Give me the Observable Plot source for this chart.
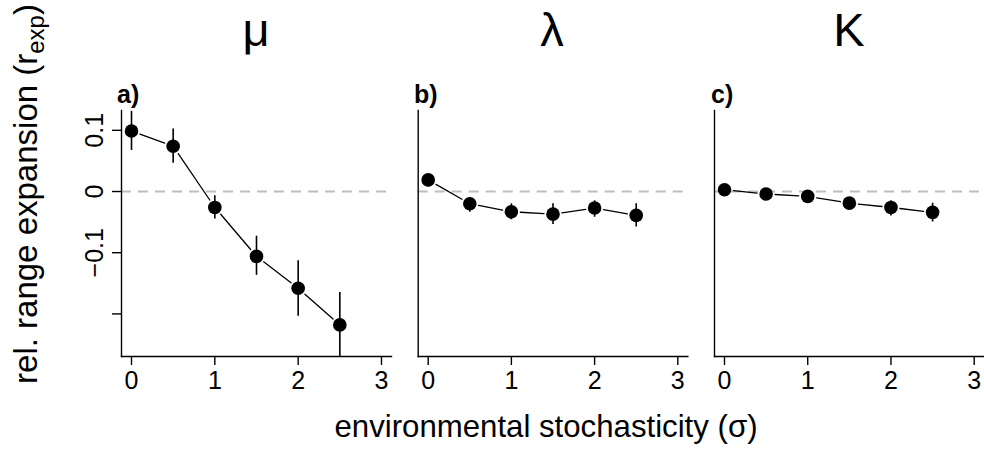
<!DOCTYPE html>
<html><head><meta charset="utf-8">
<script src="https://cdn.jsdelivr.net/npm/d3@7"></script>
<script src="https://cdn.jsdelivr.net/npm/@observablehq/plot@0.6"></script>
<style>
body{margin:0;background:#fff;}
#wrap{position:relative;width:984px;height:450px;overflow:hidden;font-family:"Liberation Sans",Arial,Helvetica,sans-serif;}
.panel{position:absolute;top:0;}
svg.panel text{font-size:25px !important;font-family:"Liberation Sans",Arial,Helvetica,sans-serif !important;fill:#000;}
#overlay{position:absolute;left:0;top:0;pointer-events:none;}
</style></head><body><div id="wrap"></div>
<script>
const sigma = [0, 0.5, 1, 1.5, 2, 2.5];
const panelLabels = ["a)", "b)", "c)"];
const panelTitles = ["μ", "λ", "K"];
const muMean = [0.099, 0.074, -0.026, -0.106, -0.158, -0.218];
const muLow = [0.067, 0.046, -0.045, -0.137, -0.204, -0.272];
const muHigh = [0.131, 0.102, -0.007, -0.073, -0.113, -0.165];
const lambdaMean = [0.019, -0.020, -0.033, -0.037, -0.027, -0.039];
const lambdaLow = [0.008, -0.034, -0.046, -0.054, -0.042, -0.058];
const lambdaHigh = [0.027, -0.010, -0.020, -0.020, -0.015, -0.020];
const kMean = [0.003, -0.004, -0.008, -0.019, -0.026, -0.034];
const kLow = [-0.002, -0.014, -0.018, -0.024, -0.040, -0.050];
const kHigh = [0.007, 0.005, -0.001, -0.013, -0.015, -0.019];
const xTicks = [0, 1, 2, 3];
const yTicks = [-0.2, -0.1, 0, 0.1];
const yTickLabels = ["", "−0.1", "0", "0.1"];
const xTitle = "environmental stochasticity (σ)";
const yTitle = "rel. range expansion (r";
const yTitleSub = "exp";

const FONT = '"Liberation Sans", Arial, Helvetica, sans-serif';
const wrap = document.getElementById("wrap");

function panel(mean, low, high, o) {
  const rows = sigma.map((s, i) => ({s, m: mean[i], lo: low[i], hi: high[i]}));
  const segs = rows.slice(1).map((r, i) => ({x1: rows[i].s, y1: rows[i].m, x2: r.s, y2: r.m}));
  const marks = [
    Plot.ruleY([0], {stroke: "#bebebe", strokeWidth: 2, strokeDasharray: "10,7"}),
    Plot.frame({anchor: "left", stroke: "#000", strokeWidth: 1.4, strokeOpacity: 1}),
    Plot.frame({anchor: "bottom", stroke: "#000", strokeWidth: 1.4, strokeOpacity: 1}),
    Plot.axisX({ticks: xTicks, tickSize: 9, tickPadding: 6, label: null, tickFormat: d => String(d), strokeWidth: 1.4, fontSize: 25})
  ];
  if (o.yaxis) {
    marks.push(Plot.axisY({ticks: yTicks, tickSize: 9, label: null, tickFormat: () => "", strokeWidth: 1.4}));
    marks.push(Plot.text(yTicks, {y: d => d, text: (d, i) => yTickLabels[i], frameAnchor: "left", textAnchor: "middle", lineAnchor: "middle", dx: -27, rotate: -90, fill: "#000", fontSize: 25}));
  }
  marks.push(
    Plot.arrow(segs, {x1: "x1", y1: "y1", x2: "x2", y2: "y2", headLength: 0, insetStart: 9, insetEnd: 9, stroke: "#000", strokeWidth: 1.3}),
    Plot.dot(rows, {x: "s", y: "m", r: 6.8, fill: "#000"}),
    Plot.ruleX(rows, {x: "s", y1: "lo", y2: "hi", stroke: "#000", strokeWidth: 1.6, clip: true})
  );
  const svg = Plot.plot({
    width: o.width, height: 450,
    marginLeft: o.ml, marginRight: o.mr, marginTop: 110, marginBottom: 94,
    style: {fontFamily: FONT, fontSize: "25px", color: "#000", background: "transparent", overflow: "visible"},
    x: {domain: [-0.12, 3.12]},
    y: {domain: [-0.2696, 0.1324], axis: o.yaxis ? undefined : null},
    marks
  });
  svg.classList.add("panel");
  svg.style.left = o.left + "px";
  svg.style.position = "absolute";
  wrap.appendChild(svg);
}

panel(muMean, muLow, muHigh, {left: 0, width: 400, ml: 121, mr: 9, yaxis: true});
panel(lambdaMean, lambdaLow, lambdaHigh, {left: 400, width: 300, ml: 17.7, mr: 12.7, yaxis: false});
panel(kMean, kLow, kHigh, {left: 700, width: 284, ml: 14, mr: 0.3, yaxis: false});

// overlay text
const ns = "http://www.w3.org/2000/svg";
const ov = document.createElementNS(ns, "svg");
ov.setAttribute("id", "overlay");
ov.setAttribute("width", 984);
ov.setAttribute("height", 450);
ov.style.fontFamily = FONT;
function txt(x, y, s, attrs) {
  const t = document.createElementNS(ns, "text");
  t.setAttribute("x", x); t.setAttribute("y", y);
  for (const k in attrs) t.setAttribute(k, attrs[k]);
  t.textContent = s;
  ov.appendChild(t);
  return t;
}
const titleX = [256, 552, 849];
const labelX = [117, 414, 711];
panelTitles.forEach((s, i) => txt(titleX[i], 46, s, {"text-anchor": "middle", "font-size": 47}));
panelLabels.forEach((s, i) => txt(labelX[i], 103, s, {"font-size": 25, "font-weight": "bold"}));
txt(546, 437, xTitle, {"text-anchor": "middle", "font-size": 31.2});
const yt = txt(0, 0, yTitle, {"text-anchor": "middle", "font-size": 33, transform: "translate(37,194) rotate(-90)"});
const sub = document.createElementNS(ns, "tspan");
sub.setAttribute("dy", 7); sub.setAttribute("font-size", 24); sub.textContent = yTitleSub;
const close = document.createElementNS(ns, "tspan");
close.setAttribute("dy", -7); close.textContent = ")";
yt.appendChild(sub); yt.appendChild(close);
wrap.appendChild(ov);
</script></body></html>
